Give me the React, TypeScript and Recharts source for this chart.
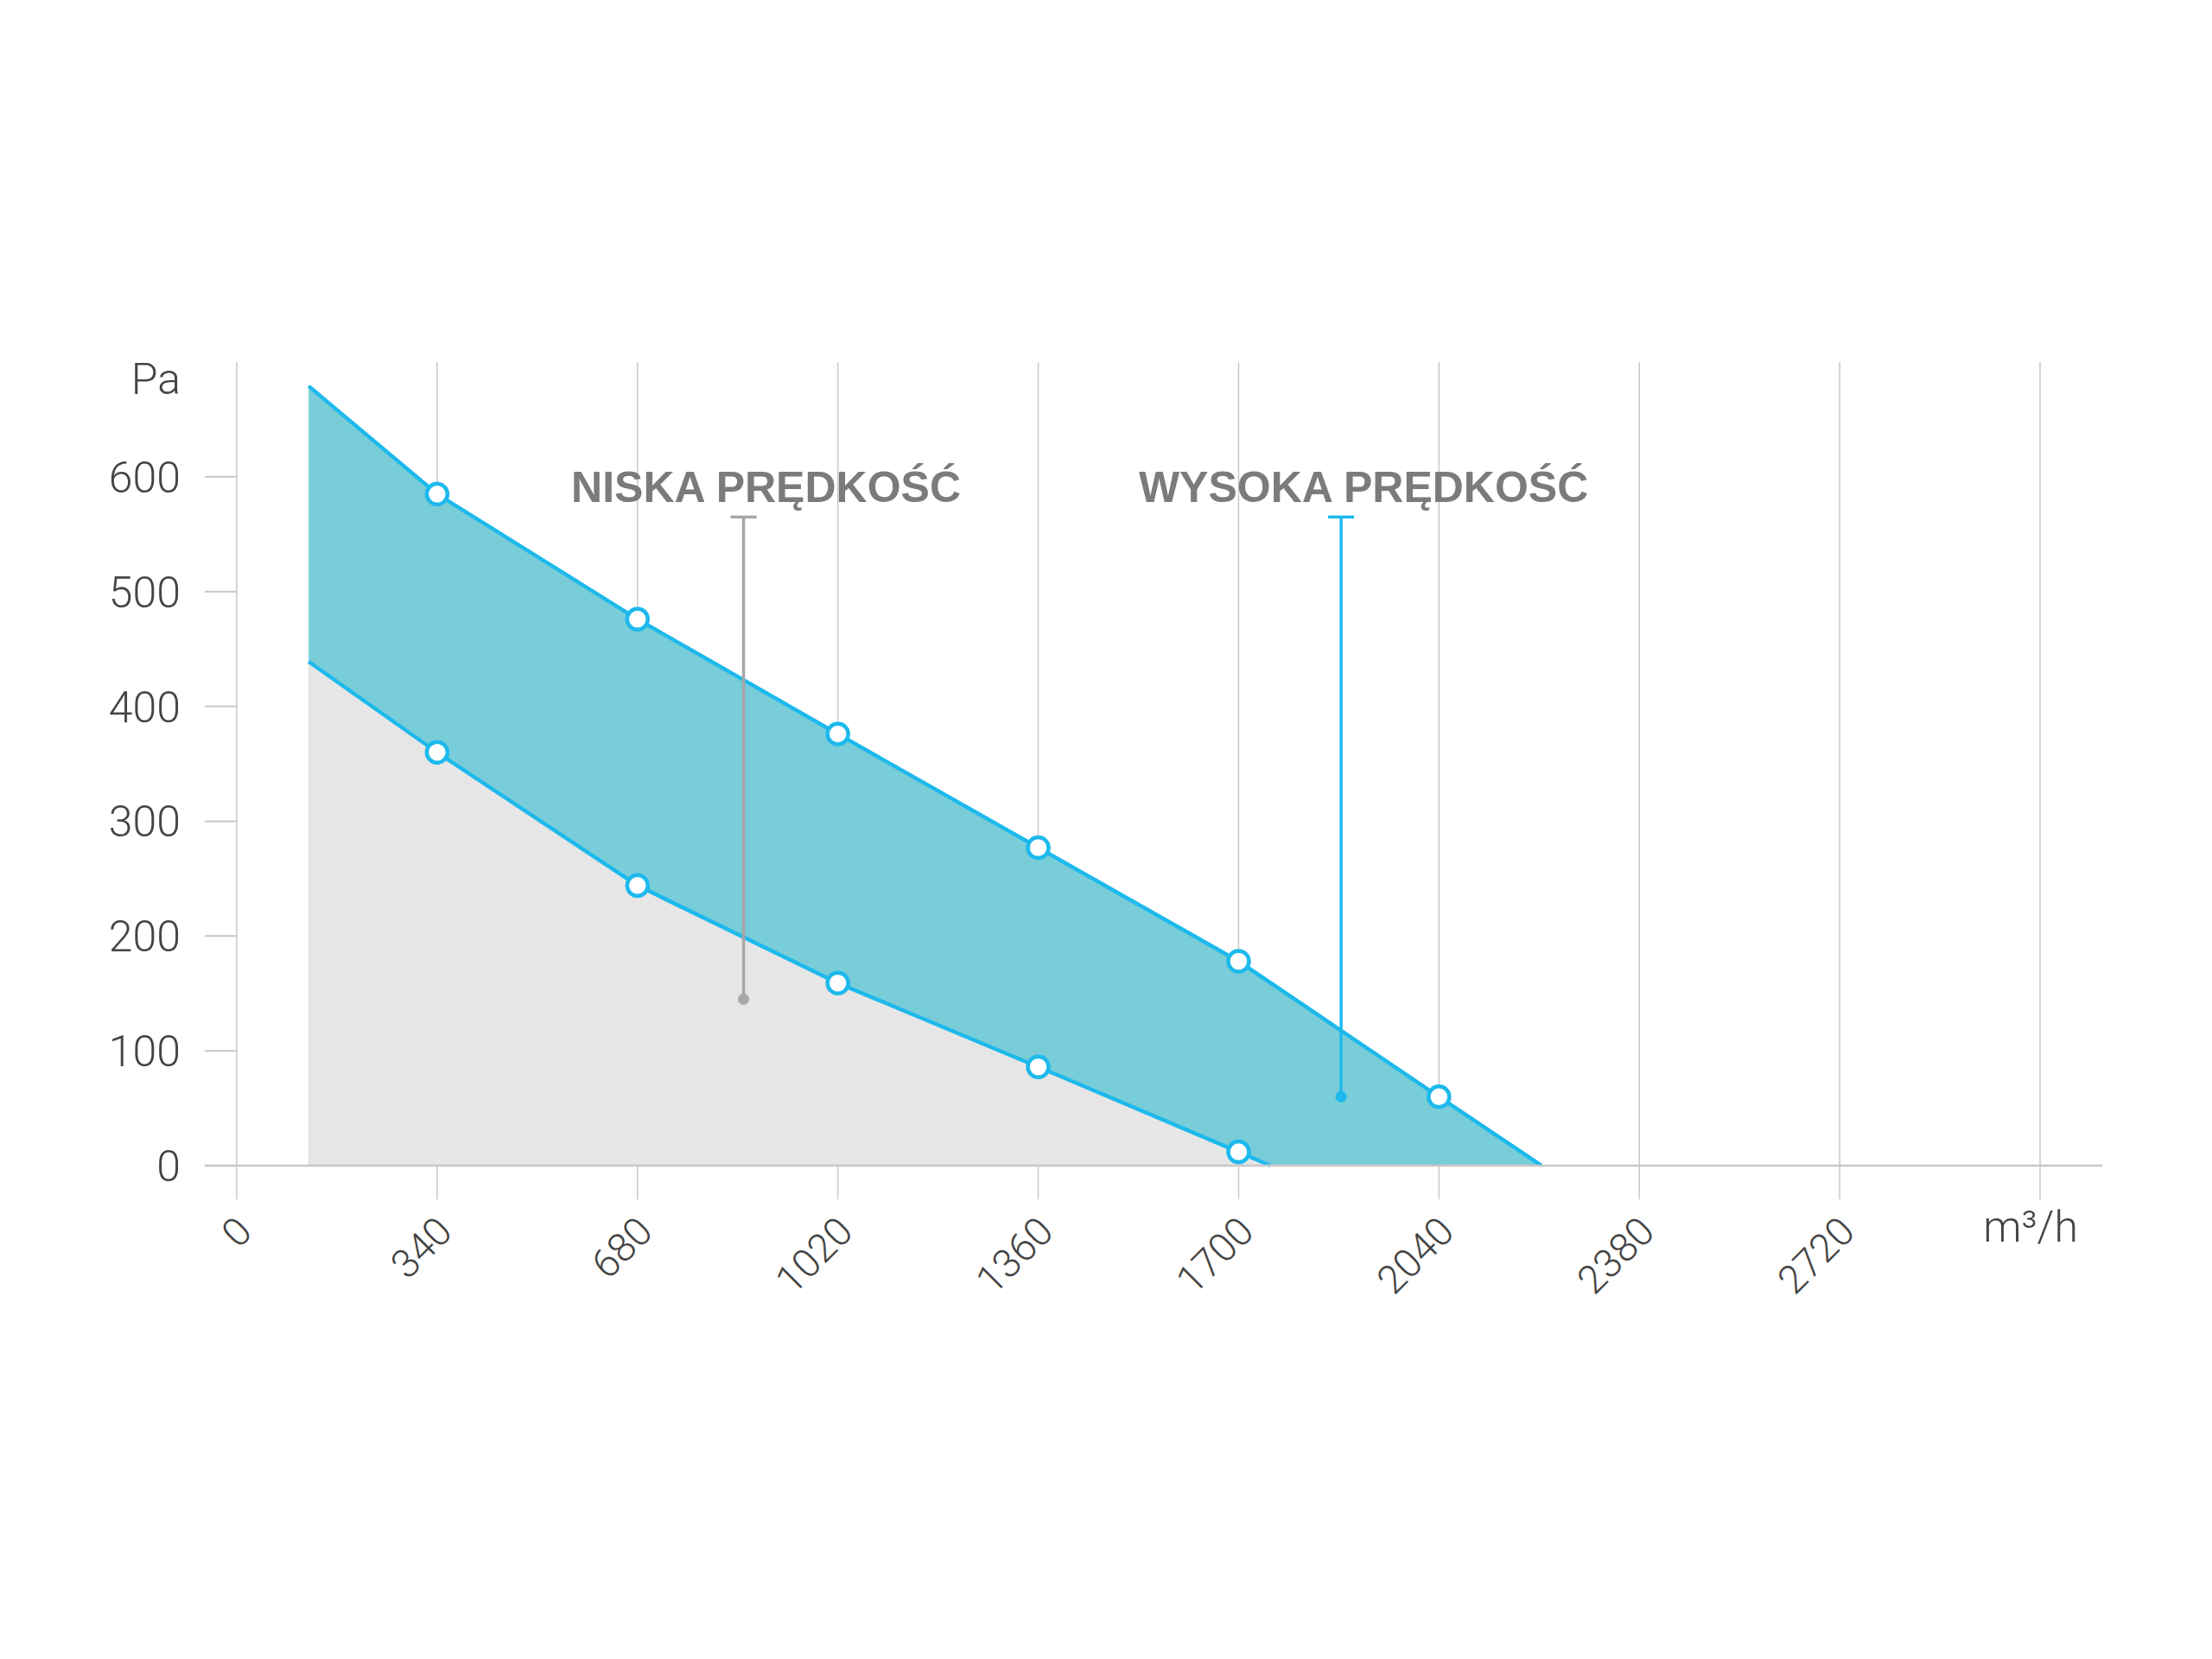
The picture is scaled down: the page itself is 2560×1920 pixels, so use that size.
import React from 'react';
import { ComposedChart, Area, XAxis, YAxis, CartesianGrid, ReferenceLine } from 'recharts';

// przepływ [m3/h] i ciśnienie [Pa]
const highFlow = [122, 340, 680, 1020, 1360, 1700, 2040, 2214];
const highPressure = [679, 585, 476, 376, 277, 178, 60, 0];
const lowFlow = [122, 340, 680, 1020, 1360, 1700, 1754];
const lowPressure = [439, 360, 244, 159, 86, 12, 0];

const xTicks = [0, 340, 680, 1020, 1360, 1700, 2040, 2380, 2720, 3060];
const yTicks = [0, 100, 200, 300, 400, 500, 600, 700];
const xUnit = 'm³/h';
const yUnit = 'Pa';

const annotationLabels = ['NISKA PRĘDKOŚĆ', 'WYSOKA PRĘDKOŚĆ'];
const annotationFlow = [860, 1874];
const annotationFrom = [145, 60];
const annotationTo = [565, 565];
const annotationColors = ['#a7a7a7', '#1db9ec'];

const LINE = '#1db9ec';
const TEAL = '#78cdd8';
const GREY = '#e6e6e6';
const PAD_LEFT = 37;

const highData = highFlow.map((f, i) => ({ flow: f, pressure: highPressure[i], marker: f > 0 && xTicks.includes(f) }));
const lowData = lowFlow.map((f, i) => ({ flow: f, pressure: lowPressure[i], marker: f > 0 && xTicks.includes(f) }));

const renderDot = (props: any) => {
  const { cx, cy, payload, index } = props;
  if (!payload || !payload.marker) return <g key={`d-${index}`} />;
  return <circle key={`d-${index}`} cx={cx} cy={cy} r={12} fill="#fff" stroke={LINE} strokeWidth={4.5} />;
};

const XTick = ({ x, y, payload }: any) => {
  if (payload.value === xTicks[xTicks.length - 1]) {
    return (
      <text x={x - 11} y={y + 49} textAnchor="middle" fontFamily="Roboto" fontWeight={300} fontSize={50} fill="#444">
        {xUnit}
      </text>
    );
  }
  const ex = x + 20;
  const ey = y + 40;
  return (
    <text x={ex} y={ey} textAnchor="end" transform={`rotate(-45, ${ex}, ${ey})`} fontFamily="Roboto" fontWeight={300} fontSize={46} fill="#444">
      {payload.value}
    </text>
  );
};

const YTick = ({ x, y, payload }: any) => {
  const isUnit = payload.value === yTicks[yTicks.length - 1];
  return (
    <g>
      {!isUnit && <line x1={x} x2={x + PAD_LEFT} y1={y} y2={y} stroke="#c6c6c6" strokeWidth={2} />}
      <text x={x - 28} y={isUnit ? y + 19 : y} dy="0.36em" textAnchor="end" fontFamily="Roboto" fontWeight={300} fontSize={50} fill="#444">
        {isUnit ? yUnit : payload.value}
      </text>
    </g>
  );
};

const makeMarker = (label: string, color: string) => (props: any) => {
  const { x1, y1, x2, y2 } = props;
  const top = Math.min(y1, y2);
  const bottom = Math.max(y1, y2);
  return (
    <g>
      <line x1={x1} x2={x2} y1={top} y2={bottom} stroke={color} strokeWidth={3.5} />
      <line x1={x1 - 15} x2={x1 + 15} y1={top} y2={top} stroke={color} strokeWidth={3.5} />
      <circle cx={x1} cy={bottom} r={6.5} fill={color} />
      <text x={x1 + 26} y={top - 17} textAnchor="middle" fontFamily="'Liberation Sans', Arial, sans-serif" fontWeight="bold" fontSize={50} fill="#7b7b7b">
        {label}
      </text>
    </g>
  );
};

export default function App() {
  return (
    <div style={{ width: 2560, height: 1920, background: '#fff' }}>
      <style>{'body{margin:0}'}</style>
      <ComposedChart width={2560} height={1920} margin={{ top: 419, right: 127, bottom: 0, left: 0 }}>
        <CartesianGrid horizontal={false} syncWithTicks stroke="#c9c9c9" strokeWidth={1.5} />
        <XAxis
          type="number"
          dataKey="flow"
          domain={[0, 3060]}
          ticks={xTicks}
          interval={0}
          height={571}
          padding={{ left: PAD_LEFT, right: 72 }}
          axisLine={{ stroke: '#c8c8c8', strokeWidth: 2.5 }}
          tickLine={{ stroke: '#c9c9c9', strokeWidth: 1.5 }}
          tickSize={39}
          tickMargin={0}
          tick={<XTick />}
        />
        <YAxis
          type="number"
          domain={[0, 700]}
          ticks={yTicks}
          interval={0}
          width={237}
          axisLine={false}
          tickLine={false}
          tickSize={0}
          tickMargin={0}
          tick={<YTick />}
        />
        <Area
          data={highData}
          dataKey="pressure"
          type="linear"
          stroke={LINE}
          strokeWidth={4.5}
          fill={TEAL}
          fillOpacity={1}
          dot={renderDot}
          activeDot={false}
          isAnimationActive={false}
        />
        <Area
          data={lowData}
          dataKey="pressure"
          type="linear"
          stroke={LINE}
          strokeWidth={4.5}
          fill={GREY}
          fillOpacity={1}
          dot={renderDot}
          activeDot={false}
          isAnimationActive={false}
        />
        {annotationLabels.map((label, i) => (
          <ReferenceLine
            key={label}
            segment={[
              { x: annotationFlow[i], y: annotationFrom[i] },
              { x: annotationFlow[i], y: annotationTo[i] },
            ]}
            shape={makeMarker(label, annotationColors[i])}
          />
        ))}
      </ComposedChart>
    </div>
  );
}
